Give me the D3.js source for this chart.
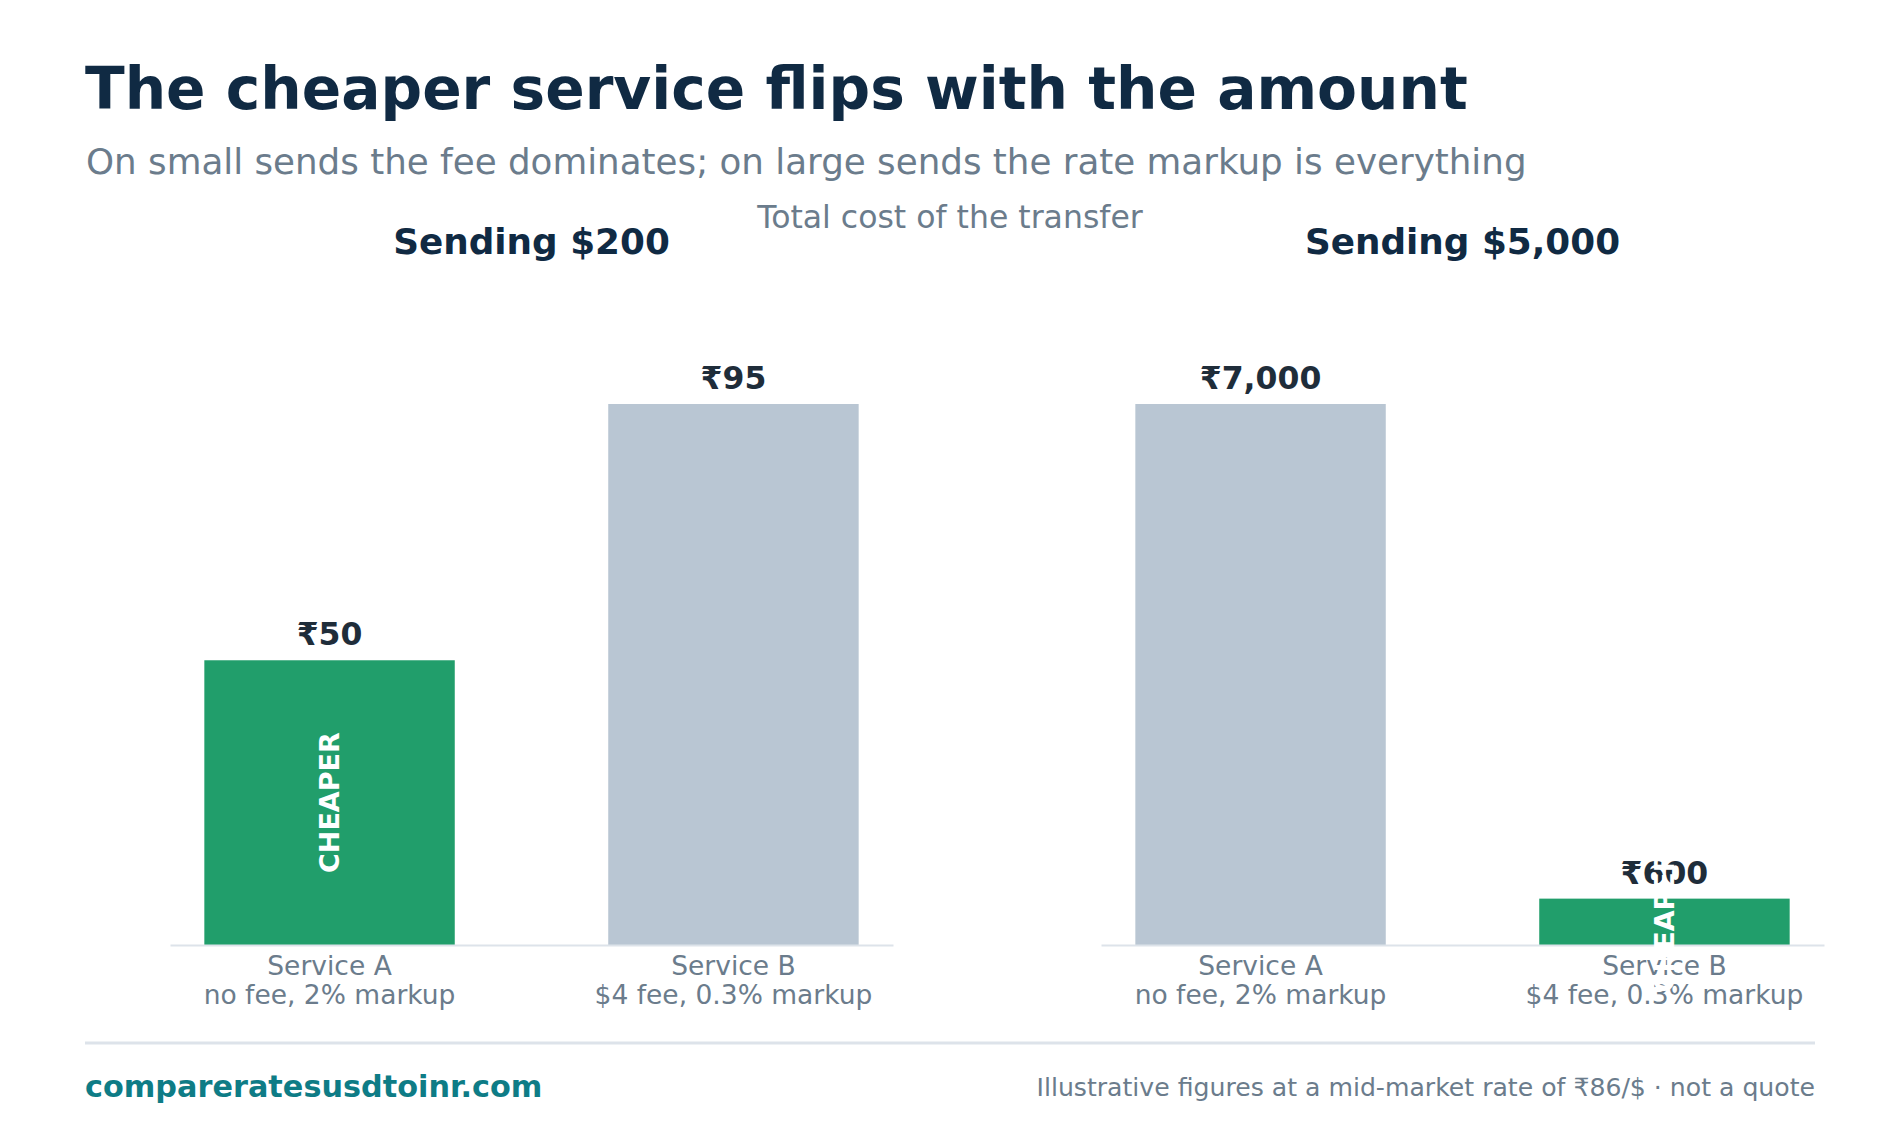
<!DOCTYPE html>
<html>
<head>
<meta charset="utf-8">
<script src="https://cdn.jsdelivr.net/npm/d3@7"></script>
<style>
  body { margin: 0; background: #fff; }
  svg { display: block; font-family: "DejaVu Sans", sans-serif; }
</style>
</head>
<body>
<svg id="chart" width="1900" height="1140"></svg>
<script>
/******************************** Data ********************************/
var panelTitles = ["Sending $200", "Sending $5,000"];
var services = ["Service A", "Service B"];
var serviceNotes = ["no fee, 2% markup", "$4 fee, 0.3% markup"];
var costsSmall = [50, 95];      // INR, sending $200
var costsLarge = [7000, 600];   // INR, sending $5,000
var panelCosts = [costsSmall, costsLarge];

/******************************** Layout ********************************/
var W = 1900, H = 1140;
var panelX = [170, 1101], panelW = 723;
var baseY = 945, topY = 404;

var svg = d3.select("#chart");
var fmt = d3.format(",");

// header
svg.append("text").attr("x", 85).attr("y", 109)
  .style("font-size", "58.2px").style("font-weight", "bold").style("fill", "#102a43")
  .text("The cheaper service flips with the amount");

svg.append("text").attr("x", 86).attr("y", 174)
  .style("font-size", "35.7px").style("fill", "#6b7c8c")
  .text("On small sends the fee dominates; on large sends the rate markup is everything");

svg.append("text").attr("x", W / 2).attr("y", 228).attr("text-anchor", "middle")
  .style("font-size", "31.5px").style("fill", "#6b7c8c")
  .text("Total cost of the transfer");

/******************************** Panels ********************************/
var cheaperLabels = [];

panelCosts.forEach(function (costs, p) {
  var g = svg.append("g").attr("transform", "translate(" + panelX[p] + ",0)");

  var x = d3.scaleBand().domain(services).range([0, panelW])
    .paddingInner(0.38).paddingOuter(0.085);
  var y = d3.scaleLinear().domain([0, d3.max(costs)]).range([baseY, topY]);
  var minCost = d3.min(costs);

  g.append("text").attr("x", panelW / 2).attr("y", 254).attr("text-anchor", "middle")
    .style("font-size", "35.8px").style("font-weight", "bold").style("fill", "#102a43")
    .text(panelTitles[p]);

  g.selectAll("rect.bar").data(costs).enter().append("rect")
    .attr("class", "bar")
    .attr("x", function (d, i) { return x(services[i]); })
    .attr("y", function (d) { return y(d); })
    .attr("width", x.bandwidth())
    .attr("height", function (d) { return baseY - y(d); })
    .style("fill", function (d) { return d === minCost ? "#219e6b" : "#b9c6d3"; });

  // axis
  var axis = g.append("g").attr("transform", "translate(0," + baseY + ")")
    .call(d3.axisBottom(x).tickSize(0).tickSizeOuter(0));
  axis.select(".domain").attr("stroke", "#dde3ea").attr("stroke-width", 2);
  axis.selectAll(".tick text").remove();
  axis.selectAll(".tick").each(function (d, i) {
    var t = d3.select(this).append("text").attr("text-anchor", "middle")
      .style("font-size", "26.5px").style("fill", "#6b7c8c")
      .style("font-family", "'DejaVu Sans', sans-serif");
    t.append("tspan").attr("x", 0).attr("y", 30).text(d);
    t.append("tspan").attr("x", 0).attr("y", 59).text(serviceNotes[i]);
  });

  g.selectAll("text.value").data(costs).enter().append("text")
    .attr("class", "value")
    .attr("x", function (d, i) { return x(services[i]) + x.bandwidth() / 2; })
    .attr("y", function (d) { return y(d) - 15; })
    .attr("text-anchor", "middle")
    .style("font-size", "31.5px").style("font-weight", "bold").style("fill", "#1f2d3a")
    .text(function (d) { return "₹" + fmt(d); });

  costs.forEach(function (d, i) {
    if (d === minCost) cheaperLabels.push({ g: g, cx: x(services[i]) + x.bandwidth() / 2, cy: (y(d) + baseY) / 2 });
  });
});

// CHEAPER tags drawn last (they sit on top of everything)
cheaperLabels.forEach(function (c) {
  c.g.append("text")
    .attr("transform", "translate(" + c.cx + "," + c.cy + ") rotate(-90)")
    .attr("text-anchor", "middle").attr("dy", "0.35em")
    .style("font-size", "27px").style("font-weight", "bold").style("fill", "#ffffff")
    .text("CHEAPER");
});

/******************************** Footer ********************************/
svg.append("line").attr("x1", 85).attr("x2", 1815).attr("y1", 1043).attr("y2", 1043)
  .attr("stroke", "#dde3ea").attr("stroke-width", 3);

svg.append("text").attr("x", 85).attr("y", 1097)
  .style("font-size", "30.3px").style("font-weight", "bold").style("fill", "#0e7c86")
  .text("compareratesusdtoinr.com");

svg.append("text").attr("x", 1815).attr("y", 1096).attr("text-anchor", "end")
  .style("font-size", "25.15px").style("fill", "#6b7c8c")
  .text("Illustrative figures at a mid-market rate of ₹86/$ · not a quote");
</script>
</body>
</html>
